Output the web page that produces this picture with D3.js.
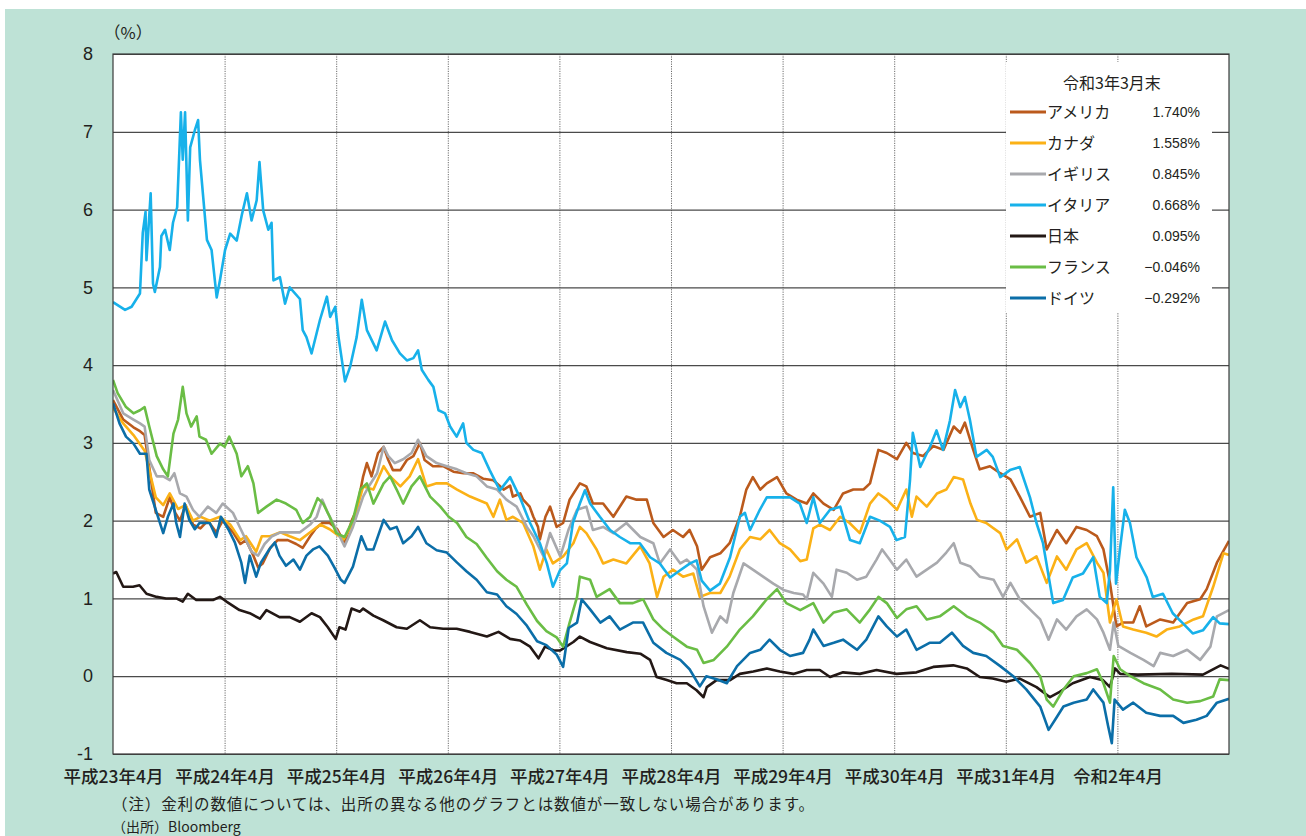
<!DOCTYPE html>
<html>
<head>
<meta charset="utf-8">
<script src="https://cdn.jsdelivr.net/npm/d3@7"></script>
<style>
  body { margin: 0; background: #fff; }
</style>
</head>
<body>
<div id="chart"></div>
<script>
//Data: [months since 平成23年4月, 10-year yield (%)]
var usa = [[0,3.55],[1.1,3.3],[2.2,3.2],[2.9,3.15],[3.4,3.1],[4.0,2.6],[4.6,2.1],[5.4,2.05],[6.1,2.3],[6.7,2.1],[7.2,2.0],[7.8,2.2],[8.6,1.95],[9.4,1.9],[10.2,2.0],[11.1,1.85],[11.8,2.0],[12.9,1.85],[13.7,1.7],[14.3,1.75],[15.1,1.55],[15.6,1.4],[16.1,1.45],[16.9,1.65],[17.7,1.75],[18.8,1.75],[19.7,1.7],[20.4,1.65],[21.2,1.8],[21.8,1.9],[22.5,1.97],[23.3,1.97],[24.1,1.89],[24.9,1.71],[25.7,2.01],[26.2,2.14],[26.9,2.57],[27.3,2.74],[27.8,2.57],[28.5,2.87],[29.1,2.95],[29.6,2.78],[30.1,2.65],[30.9,2.65],[31.6,2.78],[32.3,2.83],[32.8,2.95],[33.0,3.0],[33.5,2.78],[34.4,2.7],[35.5,2.7],[36.6,2.63],[37.7,2.61],[38.7,2.61],[39.8,2.54],[40.9,2.52],[42.0,2.4],[42.7,2.45],[43.0,2.31],[43.8,2.35],[44.1,2.27],[44.8,2.18],[45.2,2.05],[45.7,1.92],[45.9,1.76],[46.5,2.05],[47.0,2.18],[47.7,1.92],[48.4,1.97],[49.1,2.27],[50.2,2.48],[50.9,2.44],[51.6,2.22],[52.7,2.22],[53.8,2.05],[55.2,2.31],[56.3,2.27],[57.4,2.27],[58.1,1.97],[59.2,1.79],[60.2,1.88],[61.3,1.79],[62.0,1.88],[62.8,1.67],[63.3,1.37],[64.2,1.53],[65.3,1.58],[66.3,1.71],[67.4,2.05],[68.1,2.4],[68.8,2.56],[69.6,2.4],[70.3,2.48],[71.4,2.56],[72.4,2.35],[73.5,2.27],[74.6,2.22],[75.3,2.35],[76.4,2.22],[77.5,2.14],[78.5,2.35],[79.6,2.4],[80.7,2.4],[81.4,2.48],[82.3,2.91],[83.2,2.87],[84.3,2.79],[85.3,3.0],[86.0,2.87],[87.1,2.83],[88.2,2.96],[89.3,2.91],[90.4,3.21],[91.1,3.13],[91.6,3.26],[92.5,2.91],[93.2,2.66],[94.3,2.7],[95.4,2.61],[96.5,2.53],[97.5,2.31],[98.6,2.05],[99.7,2.1],[100.4,1.63],[101.5,1.88],[102.5,1.71],[103.6,1.92],[104.7,1.88],[105.8,1.8],[106.5,1.63],[107.2,1.2],[107.9,0.64],[108.6,0.69],[109.7,0.69],[110.4,0.9],[111.1,0.64],[112.6,0.73],[114.0,0.69],[115.5,0.94],[116.9,0.99],[117.6,1.12],[118.7,1.46],[120,1.74]];

var canada = [[0,3.45],[1.1,3.25],[2.2,3.1],[3.4,2.9],[4.0,2.6],[4.6,2.3],[5.4,2.2],[6.1,2.35],[7.0,2.15],[7.8,2.2],[8.6,2.0],[9.4,2.05],[10.4,2.0],[11.5,2.05],[12.6,1.95],[13.7,1.75],[14.3,1.8],[15.4,1.6],[16.0,1.8],[16.9,1.8],[18.0,1.85],[19.0,1.8],[20.1,1.75],[21.2,1.85],[22.3,1.95],[23.3,1.89],[24.8,1.76],[25.8,1.97],[26.9,2.44],[28.0,2.4],[29.1,2.7],[29.8,2.57],[30.9,2.44],[31.9,2.57],[32.8,2.79],[33.7,2.44],[34.8,2.48],[35.9,2.48],[37.0,2.4],[38.4,2.31],[40.2,2.22],[40.9,2.05],[41.6,2.27],[42.3,2.01],[43.0,2.05],[44.1,1.97],[45.2,1.67],[45.9,1.37],[46.6,1.63],[47.3,1.45],[48.4,1.54],[49.5,1.71],[50.2,1.92],[50.9,1.84],[52.0,1.63],[52.7,1.45],[53.8,1.5],[55.2,1.45],[56.7,1.67],[57.7,1.45],[58.5,1.02],[59.2,1.28],[60.2,1.37],[61.3,1.28],[62.4,1.32],[63.1,1.02],[64.2,1.07],[65.3,1.07],[66.3,1.28],[67.4,1.63],[68.5,1.79],[69.6,1.76],[70.6,1.88],[71.7,1.71],[72.8,1.63],[73.9,1.48],[74.6,1.5],[75.3,1.9],[76.0,1.95],[77.1,1.88],[78.2,2.05],[79.2,1.97],[80.3,1.84],[81.4,2.22],[82.3,2.35],[83.2,2.27],[84.3,2.14],[85.3,2.4],[85.9,2.05],[86.4,2.31],[87.5,2.18],[88.6,2.35],[89.6,2.4],[90.4,2.56],[91.4,2.53],[92.2,2.22],[92.9,2.01],[93.9,1.97],[95.4,1.84],[96.1,1.63],[97.2,1.76],[98.2,1.46],[99.3,1.54],[100.4,1.2],[101.5,1.54],[102.5,1.37],[103.6,1.63],[104.7,1.71],[105.8,1.46],[106.5,1.33],[107.2,0.69],[107.9,0.99],[108.6,0.64],[109.7,0.6],[111.1,0.56],[112.2,0.51],[113.3,0.6],[114.7,0.64],[116.2,0.73],[117.2,0.77],[118.3,1.15],[119.4,1.58],[120,1.56]];

var uk = [[0,3.68],[1.1,3.38],[2.2,3.3],[2.9,3.25],[3.4,3.21],[3.9,2.78],[4.7,2.57],[5.4,2.57],[6.1,2.52],[6.6,2.61],[7.2,2.35],[7.9,2.31],[8.6,2.14],[9.3,2.05],[10.2,2.18],[11.1,2.1],[11.8,2.22],[12.9,2.1],[13.7,1.9],[14.3,1.75],[14.9,1.6],[15.6,1.55],[16.3,1.7],[17.1,1.8],[18.0,1.85],[19.0,1.85],[20.1,1.85],[21.2,1.95],[21.9,2.05],[22.5,2.27],[23.1,2.1],[24.0,1.89],[24.9,1.67],[25.8,1.92],[26.9,2.31],[27.5,2.44],[28.4,2.61],[29.1,2.95],[29.6,2.83],[30.3,2.74],[31.2,2.79],[32.1,2.87],[32.8,3.04],[33.7,2.83],[34.8,2.74],[35.9,2.7],[37.0,2.66],[38.0,2.61],[39.1,2.57],[40.2,2.44],[41.3,2.4],[42.3,2.27],[43.4,2.18],[44.5,1.92],[45.2,1.8],[46.3,1.54],[47.0,1.84],[48.1,1.54],[49.0,1.89],[49.9,2.14],[50.9,2.18],[51.6,1.88],[52.7,1.92],[53.8,1.84],[55.2,1.97],[56.7,1.79],[58.1,1.71],[58.8,1.45],[59.9,1.63],[61.0,1.45],[61.7,1.5],[62.8,1.37],[63.5,0.9],[64.4,0.56],[65.3,0.77],[66.0,0.69],[66.7,1.07],[67.8,1.45],[68.8,1.37],[69.9,1.28],[71.0,1.19],[72.1,1.11],[73.2,1.07],[74.2,1.05],[74.6,0.99],[75.3,1.33],[76.4,1.19],[77.3,1.02],[77.8,1.37],[78.9,1.33],[80.0,1.24],[81.0,1.28],[82.1,1.5],[82.7,1.63],[83.5,1.5],[84.3,1.37],[85.3,1.5],[86.4,1.28],[87.5,1.37],[88.6,1.46],[89.6,1.59],[90.4,1.71],[91.1,1.46],[92.2,1.41],[93.2,1.28],[94.7,1.24],[95.7,1.02],[96.5,1.2],[97.5,0.99],[98.6,0.86],[99.7,0.73],[100.6,0.47],[101.5,0.73],[102.5,0.6],[103.6,0.77],[104.7,0.86],[105.8,0.73],[106.5,0.56],[107.2,0.34],[107.6,0.69],[108.1,0.39],[109.4,0.3],[110.8,0.21],[111.9,0.13],[112.6,0.3],[114.0,0.26],[115.5,0.34],[116.9,0.21],[118.0,0.38],[118.7,0.77],[120,0.85]];

var italy = [[0,4.81],[1.3,4.71],[2.0,4.75],[2.9,4.92],[3.2,5.7],[3.5,5.97],[3.6,5.35],[4.05,6.21],[4.3,5.05],[4.5,4.94],[5.05,5.26],[5.2,5.66],[5.6,5.74],[6.1,5.48],[6.45,5.83],[6.9,6.03],[7.3,7.25],[7.5,6.64],[7.75,7.25],[8.05,5.86],[8.3,6.8],[8.8,7.02],[9.15,7.15],[9.35,6.64],[9.7,6.16],[10.1,5.61],[10.6,5.48],[11.15,4.87],[11.5,5.09],[12.05,5.48],[12.6,5.69],[13.3,5.6],[13.85,5.93],[14.4,6.21],[14.9,5.86],[15.45,6.12],[15.75,6.61],[16.15,5.99],[16.7,5.74],[17.05,5.83],[17.25,5.09],[17.95,5.13],[18.5,4.79],[19.0,5.0],[20.1,4.85],[20.4,4.45],[20.8,4.36],[21.35,4.15],[22.25,4.58],[23.0,4.88],[23.35,4.62],[23.9,4.75],[24.25,4.36],[24.95,3.79],[25.5,3.98],[26.2,4.36],[26.75,4.84],[27.3,4.45],[28.35,4.19],[29.25,4.56],[30.0,4.32],[30.85,4.15],[31.6,4.06],[32.3,4.09],[32.8,4.19],[33.2,3.94],[33.9,3.81],[34.45,3.72],[35.0,3.42],[35.7,3.38],[36.25,3.21],[36.95,3.08],[37.65,3.25],[38.0,3.0],[38.75,2.91],[39.65,2.87],[40.5,2.65],[41.6,2.39],[42.7,2.56],[43.75,2.3],[44.85,1.97],[45.9,1.71],[46.65,1.45],[47.3,1.15],[48.05,1.36],[48.8,1.45],[49.45,1.97],[50.2,2.22],[50.75,2.39],[51.3,2.22],[52.35,2.05],[53.45,1.88],[54.5,1.79],[55.6,1.71],[56.65,1.71],[57.75,1.53],[58.8,1.45],[59.9,1.27],[60.95,1.36],[62.05,1.45],[62.75,1.49],[63.3,1.23],[64.2,1.1],[65.25,1.19],[66.35,1.53],[67.4,2.05],[67.95,2.1],[68.5,1.88],[69.55,2.14],[70.3,2.3],[71.7,2.3],[72.8,2.3],[73.85,2.22],[74.6,1.97],[75.3,2.3],[76.0,1.97],[77.1,2.14],[78.2,2.18],[79.25,1.75],[80.3,1.71],[81.4,2.05],[82.45,2.0],[83.55,1.92],[84.25,1.75],[85.15,1.79],[85.7,2.52],[86.0,3.13],[86.8,2.69],[87.85,2.95],[88.55,3.16],[89.25,2.91],[90.0,3.29],[90.55,3.68],[91.1,3.46],[91.6,3.59],[92.15,3.29],[92.85,2.82],[93.95,2.91],[94.6,2.82],[95.4,2.56],[96.45,2.65],[97.5,2.69],[98.6,2.3],[99.3,1.97],[100.0,1.71],[101.1,0.94],[102.15,0.98],[103.2,1.27],[104.3,1.32],[105.4,1.53],[106.1,1.02],[106.85,0.94],[107.2,1.36],[107.55,2.43],[107.85,1.19],[108.3,1.66],[108.8,2.14],[109.35,1.97],[110.05,1.53],[111.15,1.27],[111.8,1.02],[112.9,1.06],[113.95,0.81],[115.05,0.68],[116.1,0.55],[117.2,0.59],[118.3,0.76],[119.0,0.68],[120,0.67]];

var japan = [[0,1.32],[0.35,1.34],[1.1,1.15],[2.15,1.15],[2.85,1.17],[3.6,1.06],[4.7,1.02],[5.7,1.0],[6.8,1.0],[7.5,0.96],[8.05,1.06],[8.95,0.98],[10.05,0.98],[10.75,0.98],[11.5,1.02],[12.2,0.96],[13.6,0.85],[14.7,0.81],[15.8,0.74],[16.5,0.85],[17.9,0.76],[19.0,0.76],[20.1,0.7],[21.35,0.81],[22.25,0.76],[23.1,0.63],[23.95,0.48],[24.35,0.63],[25.0,0.6],[25.65,0.87],[26.55,0.83],[26.9,0.87],[28.0,0.78],[29.05,0.72],[30.5,0.63],[31.6,0.61],[33.0,0.72],[34.1,0.63],[35.5,0.61],[36.95,0.61],[38.4,0.57],[40.2,0.51],[41.45,0.57],[42.7,0.48],[43.75,0.46],[44.85,0.38],[45.75,0.23],[46.45,0.38],[47.4,0.33],[48.05,0.33],[49.5,0.44],[50.2,0.51],[51.3,0.44],[53.1,0.36],[55.25,0.31],[56.7,0.29],[57.75,0.21],[58.45,-0.01],[59.55,-0.05],[60.6,-0.09],[61.7,-0.09],[62.75,-0.18],[63.5,-0.27],[63.85,-0.14],[64.9,-0.05],[66.35,-0.05],[67.4,0.03],[68.85,0.06],[70.3,0.1],[71.7,0.06],[73.15,0.03],[74.6,0.08],[76.0,0.08],[77.1,-0.01],[78.5,0.05],[80.3,0.03],[82.1,0.08],[84.25,0.03],[86.4,0.05],[88.2,0.12],[90.35,0.14],[91.8,0.1],[93.2,-0.01],[94.6,-0.03],[96.05,-0.07],[97.5,-0.03],[99.3,-0.14],[100.75,-0.27],[101.8,-0.2],[103.2,-0.09],[105.05,-0.01],[106.45,-0.05],[107.2,-0.14],[107.75,0.1],[108.3,0.03],[110.2,0.02],[113.85,0.03],[117.2,0.02],[119.1,0.14],[120,0.095]];

var france = [[0,3.81],[0.5,3.64],[1.4,3.46],[2.2,3.38],[2.9,3.42],[3.4,3.46],[3.9,3.21],[4.7,2.83],[5.4,2.66],[5.9,2.57],[6.5,3.12],[7.0,3.3],[7.5,3.72],[7.9,3.38],[8.4,3.21],[9.0,3.34],[9.3,3.08],[10.0,3.04],[10.6,2.86],[11.5,2.99],[12.0,2.95],[12.5,3.08],[13.3,2.86],[13.8,2.57],[14.5,2.7],[15.1,2.48],[15.6,2.1],[16.5,2.18],[17.6,2.27],[18.6,2.22],[19.7,2.14],[20.4,1.97],[21.2,2.05],[22.0,2.29],[22.6,2.22],[23.3,2.05],[24.0,1.84],[24.9,1.79],[25.8,2.01],[26.6,2.4],[27.3,2.48],[28.0,2.22],[29.1,2.48],[29.8,2.57],[30.5,2.4],[31.2,2.22],[32.1,2.44],[33.0,2.57],[34.1,2.31],[35.2,2.18],[36.1,2.05],[37.0,1.97],[38.0,1.79],[39.1,1.7],[40.2,1.52],[41.3,1.35],[42.3,1.24],[43.4,1.15],[44.5,0.92],[45.6,0.71],[46.6,0.58],[47.7,0.5],[48.4,0.38],[49.1,0.69],[49.9,1.02],[50.2,1.28],[51.3,1.24],[52.0,1.02],[53.4,1.12],[54.5,0.94],[55.9,0.94],[57.0,0.99],[58.1,0.73],[59.2,0.6],[60.2,0.51],[61.7,0.38],[62.8,0.34],[63.5,0.17],[64.6,0.21],[66.0,0.38],[67.4,0.6],[68.8,0.77],[70.3,0.99],[71.4,1.12],[72.4,0.94],[73.9,0.85],[75.3,0.94],[76.4,0.69],[77.5,0.82],[78.9,0.86],[80.3,0.69],[81.4,0.86],[82.3,1.02],[83.2,0.94],[84.3,0.75],[85.3,0.86],[86.4,0.9],[87.5,0.73],[88.9,0.77],[90.4,0.9],[91.8,0.77],[93.2,0.69],[94.7,0.56],[95.7,0.39],[97.2,0.34],[98.6,0.17],[99.7,0.0],[100.4,-0.3],[101.1,-0.39],[102.2,-0.17],[103.3,0.0],[104.7,0.04],[105.8,0.09],[106.5,-0.09],[107.2,-0.34],[107.6,0.26],[108.3,0.09],[109.4,0.0],[110.8,-0.09],[112.6,-0.17],[114.0,-0.3],[115.5,-0.34],[116.9,-0.32],[118.3,-0.26],[119.0,-0.04],[120,-0.05]];

var germany = [[0,3.51],[0.7,3.25],[1.4,3.08],[2.2,2.99],[2.9,2.86],[3.6,2.86],[3.9,2.4],[4.7,2.1],[5.4,1.84],[5.9,2.05],[6.5,2.22],[6.8,1.97],[7.2,1.79],[7.7,2.22],[8.2,2.01],[8.8,1.89],[9.3,1.97],[10.4,1.97],[11.1,1.79],[11.6,2.05],[12.4,1.89],[13.1,1.72],[13.8,1.46],[14.2,1.2],[14.7,1.55],[15.4,1.28],[15.9,1.46],[16.8,1.63],[17.4,1.72],[17.9,1.55],[18.6,1.42],[19.4,1.5],[20.1,1.37],[20.8,1.55],[21.5,1.63],[22.2,1.67],[23.1,1.55],[23.8,1.4],[24.5,1.24],[24.9,1.2],[25.8,1.41],[26.7,1.8],[27.3,1.63],[28.0,1.63],[29.1,2.01],[29.8,1.89],[30.5,1.92],[31.2,1.71],[32.1,1.8],[32.8,1.92],[33.7,1.71],[34.8,1.62],[35.9,1.59],[37.0,1.46],[38.0,1.35],[39.1,1.24],[40.2,1.08],[41.3,1.05],[42.3,0.9],[43.4,0.8],[44.5,0.65],[45.6,0.45],[46.6,0.4],[47.7,0.28],[48.4,0.12],[49.0,0.62],[49.9,0.69],[50.4,0.99],[51.3,0.86],[52.4,0.69],[53.4,0.77],[54.5,0.6],[55.9,0.69],[57.0,0.69],[58.1,0.43],[59.5,0.3],[61.0,0.21],[62.0,0.09],[63.1,-0.13],[63.8,0.0],[64.9,-0.04],[66.0,-0.09],[67.1,0.13],[68.5,0.3],[69.6,0.34],[70.6,0.47],[71.7,0.34],[72.8,0.26],[74.2,0.3],[74.9,0.47],[75.3,0.6],[76.4,0.39],[77.5,0.43],[78.5,0.47],[80.0,0.34],[81.0,0.47],[82.3,0.77],[83.2,0.64],[84.3,0.51],[85.3,0.6],[86.4,0.34],[87.8,0.43],[88.9,0.43],[90.2,0.56],[91.4,0.39],[92.5,0.3],[93.9,0.26],[95.4,0.13],[96.8,0.0],[98.2,-0.17],[99.7,-0.39],[100.6,-0.69],[101.3,-0.56],[102.2,-0.39],[103.3,-0.34],[104.7,-0.3],[105.4,-0.17],[106.5,-0.34],[107.0,-0.64],[107.4,-0.86],[107.7,-0.3],[108.6,-0.43],[109.7,-0.34],[111.1,-0.47],[112.6,-0.51],[114.0,-0.51],[115.1,-0.6],[116.5,-0.56],[117.6,-0.51],[118.7,-0.34],[120,-0.29]];

var names = ["アメリカ", "カナダ", "イギリス", "イタリア", "日本", "フランス", "ドイツ"];
var lastValues = ["1.740%", "1.558%", "0.845%", "0.668%", "0.095%", "\u22120.046%", "\u22120.292%"];
var colors = ["#bb5a1c", "#fbb116", "#a8a9ad", "#17b1ea", "#231815", "#6abd45", "#0b6ea8"];
var xLabels = ["平成23年4月", "平成24年4月", "平成25年4月", "平成26年4月", "平成27年4月", "平成28年4月", "平成29年4月", "平成30年4月", "平成31年4月", "令和2年4月"];
var xTickMonths = [0, 12, 24, 36, 48, 60, 72, 84, 96, 108];
var yTicks = [-1, 0, 1, 2, 3, 4, 5, 6, 7, 8];

var seriesData = [usa, canada, uk, italy, japan, france, germany];

//Chart dimensions
var W = 1306, H = 836;
var margin = { top: 54, right: 77, bottom: 82, left: 113 },
  width = W - margin.left - margin.right,
  height = H - margin.top - margin.bottom;

var jpFont = "'Noto Sans CJK JP', 'Noto Sans', sans-serif";
var numFont = "'Liberation Sans', Arial, sans-serif";

var svg = d3.select("#chart")
  .append("svg")
  .attr("width", W)
  .attr("height", H);

//Mint panel background
svg.append("rect")
  .attr("x", 5).attr("y", 9)
  .attr("width", W - 5).attr("height", H - 9)
  .attr("fill", "#bee2d6");

var g = svg.append("g")
  .attr("transform", "translate(" + margin.left + "," + margin.top + ")");

//Plot area
g.append("rect")
  .attr("width", width).attr("height", height)
  .attr("fill", "#fff");

var x = d3.scaleLinear().domain([0, 120]).range([0, width]);
var y = d3.scaleLinear().domain([-1, 8]).range([height, 0]);

//Vertical dotted grid lines
g.append("g")
  .call(d3.axisBottom(x).tickValues(xTickMonths.slice(1)).tickSize(height).tickFormat(""))
  .call(function (a) { a.select(".domain").remove(); })
  .selectAll(".tick line")
  .attr("stroke", "#6d6d6d")
  .attr("stroke-width", 1)
  .attr("stroke-dasharray", "1.2,1.2");

//Horizontal grid lines
g.append("g")
  .call(d3.axisLeft(y).tickValues(yTicks).tickSize(-width).tickFormat(""))
  .call(function (a) { a.select(".domain").remove(); })
  .selectAll(".tick line")
  .attr("stroke", "#4a4a4a")
  .attr("stroke-width", 1.2);

//Lines
var line = d3.line()
  .x(function (d) { return x(d[0]); })
  .y(function (d) { return y(d[1]); });

g.append("clipPath").attr("id", "plotclip")
  .append("rect").attr("width", width).attr("height", height);

g.append("g")
  .attr("clip-path", "url(#plotclip)")
  .selectAll("path")
  .data(seriesData)
  .enter()
  .append("path")
  .attr("d", line)
  .attr("fill", "none")
  .attr("stroke", function (d, i) { return colors[i]; })
  .attr("stroke-width", 2.6)
  .attr("stroke-linejoin", "round");

//Frame
g.append("rect")
  .attr("width", width).attr("height", height)
  .attr("fill", "none")
  .attr("stroke", "#3a3a3a")
  .attr("stroke-width", 1.2);

//Y axis labels (plain hyphen for -1 as in the original)
g.append("g")
  .call(d3.axisLeft(y).tickValues(yTicks).tickSize(0).tickPadding(20).tickFormat(function (d) { return String(d); }))
  .call(function (a) { a.select(".domain").remove(); })
  .selectAll("text")
  .attr("font-family", numFont)
  .attr("font-size", 18)
  .attr("fill", "#231f20");

//X axis labels
g.append("g")
  .attr("transform", "translate(0," + height + ")")
  .call(d3.axisBottom(x).tickValues(xTickMonths).tickSize(0).tickPadding(17)
    .tickFormat(function (d, i) { return xLabels[i]; }))
  .call(function (a) { a.select(".domain").remove(); })
  .selectAll("text")
  .attr("font-family", jpFont)
  .attr("font-size", 17.5)
  .attr("font-weight", 500)
  .attr("fill", "#231f20");

//Unit label
svg.append("text")
  .attr("x", 104).attr("y", 39)
  .attr("font-family", jpFont)
  .attr("font-size", 16.5)
  .attr("fill", "#231f20")
  .text("（%）");

//Notes
svg.append("text")
  .attr("x", 112).attr("y", 810)
  .attr("font-family", jpFont)
  .attr("font-size", 15.5)
  .attr("letter-spacing", 0.9)
  .attr("fill", "#231f20")
  .text("（注）金利の数値については、出所の異なる他のグラフとは数値が一致しない場合があります。");

svg.append("text")
  .attr("x", 112).attr("y", 832)
  .attr("font-family", jpFont)
  .attr("font-size", 14)
  .attr("fill", "#231f20")
  .text("（出所）Bloomberg");

//Legend
var legend = svg.append("g").attr("transform", "translate(1006,62)");
legend.append("rect")
  .attr("width", 206).attr("height", 251)
  .attr("fill", "#fff");

legend.append("text")
  .attr("x", 106).attr("y", 27)
  .attr("text-anchor", "middle")
  .attr("font-family", jpFont)
  .attr("font-size", 16)
  .attr("fill", "#231f20")
  .text("令和3年3月末");

var rows = legend.selectAll(".row")
  .data(names)
  .enter()
  .append("g")
  .attr("class", "row")
  .attr("transform", function (d, i) { return "translate(0," + (50 + i * 31) + ")"; });

rows.append("line")
  .attr("x1", 4).attr("x2", 40)
  .attr("stroke", function (d, i) { return colors[i]; })
  .attr("stroke-width", 3);

rows.append("text")
  .attr("x", 41).attr("y", 6)
  .attr("font-family", jpFont)
  .attr("font-size", 16)
  .attr("fill", "#231f20")
  .text(function (d) { return d; });

rows.append("text")
  .attr("x", 194).attr("y", 5)
  .attr("text-anchor", "end")
  .attr("font-family", numFont)
  .attr("font-size", 14)
  .attr("fill", "#231f20")
  .text(function (d, i) { return lastValues[i]; });
</script>
</body>
</html>
